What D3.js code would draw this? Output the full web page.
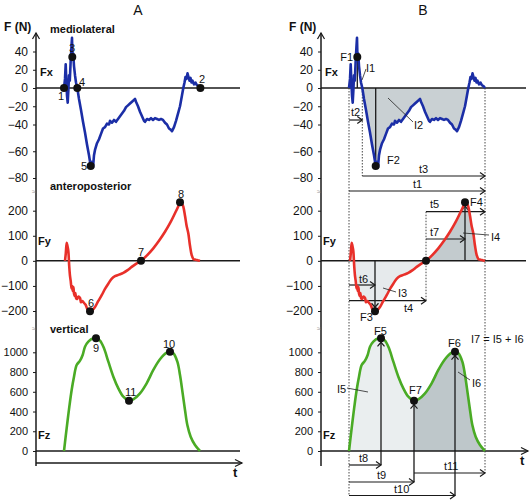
<!DOCTYPE html>
<html><head><meta charset="utf-8">
<script src="https://cdn.jsdelivr.net/npm/d3@7"></script>
<style>body{margin:0;background:#fff}svg{display:block}text{font-family:"Liberation Sans",Arial,sans-serif;fill:#111}</style>
</head><body><svg id="c" width="532" height="500"></svg>
<script>
// ---- data (time in ms of stance, force in N) ----
const stanceEnd = 680;
const fxT = [0,5,8.5,12,15,18.5,22,25,29,33,37,40,42,46,50,55,60,66.5,75,85,95,105,115,125,133.5,140,145,150,155,165,175,185,195,205,215,225,230,240,250,260,270,280,290,300,310,320,330,340,350,355,360,370,380,390,400,405,415,425,435,445,455,465,475,485,495,505,515,525,535,540,550,560,570,580,590,596.5,602.5,607.5,612.5,617.5,622.5,627.5,632.5,637.5,642.5,650,657.5,665,672.5,680];
const fxV = [0,10,26,6,-8,-16,-2,14,8,28,44,55,36,38,24,14,6,0,-12,-24,-37,-46,-55,-63,-71,-68,-72,-63,-59,-54,-51,-47,-43,-42,-39,-40,-36,-38,-35,-37,-34,-31,-28,-25,-21,-19,-17,-15,-13,-12,-15,-20,-26,-31,-36,-37,-34,-35,-33,-35,-33,-34,-35,-34,-35,-38,-40,-43,-44,-45,-42,-36,-28,-20,-8,0,6,12,10,16,12,8,11,6,8,4,6,3,2,0];
const fyT = [5,9,13.5,17,21.5,26,30,33.5,38,41,43.5,47,50,54,57,61,66,72,80,85,92,100,108,116.5,123,130,140,155,170,188.5,205,221.5,238,255,275,296.5,318,338.5,360,385,415,446.5,475,505,530,555,570,580,590,596.5,605,613,621.5,630,638.5,647,655,665,680];
const fyV = [0,30,72,60,40,-20,-60,-80,-110,-100,-120,-104,-130,-140,-128,-150,-152,-142,-148,-165,-160,-168,-175,-192,-197,-201,-198,-184,-162,-137,-112,-91,-72,-61,-55,-48,-37,-24,-12,0,22,50,80,116,150,190,215,234,228,216,180,140,110,60,23,7,5,3,0];
const fzT = [0,8.3,18.3,26.7,38.3,50,63.3,80,93.3,105,121.7,146.7,160,180,200,221.7,246.7,271.7,296.7,325,346.7,380,413.3,446.7,480,513.3,530,546.7,566.7,580,593.3,605,616.7,633.3,655,680];
const fzV = [0,145,314,449,618,753,871,915,973,1057,1108,1142,1142,1118,1040,905,753,635,550,510,523,584,686,821,929,996,1006,990,905,770,584,415,263,145,61,0];
const fxTicks = [40,20,0,-20,-40,-60,-80];
const fyTicks = [200,100,0,-100,-200];
const fzTicks = [1000,800,600,400,200,0];
// key events
const fxEvents = [{id:"1",t:0,v:0},{id:"3",t:41.5,v:34},{id:"4",t:66.5,v:0},{id:"5",t:133.5,v:-71},{id:"2",t:682,v:0}];
const fyEvents = [{id:"6",t:130,v:-201},{id:"7",t:385,v:0},{id:"8",t:580,v:234}];
const fzEvents = [{id:"9",t:160,v:1142},{id:"11",t:325,v:510},{id:"10",t:530,v:1006}];

// ---- layout ----
const svg = d3.select('#c');
const xA = d3.scaleLinear([0,stanceEnd],[64,200]);
const xB = d3.scaleLinear([0,stanceEnd],[349,485]);
const yFx = d3.scaleLinear([40,-40,-80],[51.5,124.5,178]);
const yFy = d3.scaleLinear([200,-200],[210.7,311]);
const yFz = d3.scaleLinear([0,1000],[451,352.3]);
const C = {fx:"#1b2ea6", fy:"#e8302a", fz:"#4aab25", ax:"#1a1a1a"};
const zip = (T,V)=>T.map((t,i)=>({t,v:V[i]}));
const fx = zip(fxT,fxV), fy = zip(fyT,fyV), fz = zip(fzT,fzV);
const ev = (arr,id)=>arr.find(d=>d.id===id);

function chev(g,x,y,dir,s=5){
  let p;
  if(dir==='r') p=[[x-s,y-3.5],[x,y],[x-s,y+3.5]];
  if(dir==='u') p=[[x-3.5,y+s],[x,y],[x+3.5,y+s]];
  if(dir==='d') p=[[x-3.5,y-s],[x,y],[x+3.5,y-s]];
  g.append('path').attr('d',d3.line()(p)).attr('fill','none').attr('stroke',C.ax).attr('stroke-width',1.2);
}
function txt(g,x,y,s,o={}){
  return g.append('text').attr('x',x).attr('y',y).text(s)
    .attr('font-size',o.fs||11).attr('font-weight',o.bold?'bold':null)
    .attr('text-anchor',o.anchor||'start');
}

function panel(ax, x, xRight, isB){
  const g = svg.append('g');
  const lineFx = d3.line().x(d=>x(d.t)).y(d=>yFx(d.v));
  const lineFy = d3.line().x(d=>x(d.t)).y(d=>yFy(d.v)).curve(d3.curveCatmullRom.alpha(0.5));
  const lineFz = d3.line().x(d=>x(d.t)).y(d=>yFz(d.v)).curve(d3.curveCatmullRom.alpha(0.5));
  if(isB){
    const sh = (data,y,lo,hi,fill,curve)=>{
      const a = d3.area().x(d=>x(d.t)).y0(y(0)).y1(d=>y(d.v));
      if(curve) a.curve(curve);
      g.append('path').datum(data.filter(d=>d.t>=lo&&d.t<=hi)).attr('d',a).attr('fill',fill);
    };
    const p4=ev(fxEvents,"4"), p7=ev(fyEvents,"7"), p11=ev(fzEvents,"11");
    sh(fx,yFx,p4.t,596.5,"#c9d0d3");
    sh(fy,yFy,0,p7.t,"#e6eaec",d3.curveCatmullRom.alpha(0.5));
    sh(fy,yFy,p7.t,stanceEnd,"#c3cbce",d3.curveCatmullRom.alpha(0.5));
    sh(fz,yFz,0,p11.t,"#eaeeef",d3.curveCatmullRom.alpha(0.5));
    sh(fz,yFz,p11.t,stanceEnd,"#bec7ca",d3.curveCatmullRom.alpha(0.5));
  }
  // axes
  const axG = (scale,ticks,fs)=>{
    const a = g.append('g').attr('transform',`translate(${ax},0)`)
      .call(d3.axisLeft(scale).tickValues(ticks).tickSize(3).tickPadding(5).tickFormat(d3.format('d')));
    a.select('.domain').remove();
    a.selectAll('line').attr('stroke',C.ax);
    a.selectAll('text').attr('font-size',fs).attr('font-family','"Liberation Sans",Arial,sans-serif').attr('fill','#111');
  };
  axG(yFx,fxTicks,12); axG(yFy,fyTicks,12); axG(yFz,fzTicks,11);
  g.append('line').attr('x1',ax).attr('x2',ax).attr('y1',33).attr('y2',466).attr('stroke',C.ax).attr('stroke-width',1.5);
  chev(g,ax,33,'u',6);
  [194,331].forEach(y=>txt(g,ax-2,y,'≈',{fs:7,anchor:'middle'}).attr('fill','#888').style('fill','#888'));
  const zl = (y,x2)=>g.append('line').attr('x1',ax).attr('x2',x2).attr('y1',y).attr('y2',y).attr('stroke',C.ax).attr('stroke-width',1.5);
  zl(yFx(0),xRight); zl(yFy(0),xRight);
  if(isB){ zl(yFz(0),xRight+2); chev(g,xRight+2,yFz(0),'r',7); txt(g,520,465,'t',{fs:13,bold:true}); }
  else { zl(yFz(0),xRight); zl(463,242); chev(g,242,463,'r',7); txt(g,233,477,'t',{fs:13,bold:true}); }
  // labels
  txt(g,ax+4,76,'Fx',{fs:11,bold:true});
  txt(g,ax+2,245,'Fy',{fs:11,bold:true});
  txt(g,ax+2,439,'Fz',{fs:11,bold:true});
  txt(g,ax-32,31,'F (N)',{fs:12,bold:true});
  if(!isB){
    txt(g,50,33,'mediolateral',{bold:true});
    txt(g,50,190,'anteroposterior',{bold:true});
    txt(g,50,333,'vertical',{bold:true});
  }
  return {g,lineFx,lineFy,lineFz};
}

function curves(p){
  p.g.append('path').datum(fx).attr('d',p.lineFx).attr('fill','none').attr('stroke',C.fx).attr('stroke-width',2.6).attr('stroke-linejoin','round');
  p.g.append('path').datum(fy).attr('d',p.lineFy).attr('fill','none').attr('stroke',C.fy).attr('stroke-width',2.6);
  p.g.append('path').datum(fz).attr('d',p.lineFz).attr('fill','none').attr('stroke',C.fz).attr('stroke-width',2.6);
}
function dot(g,x,y){ g.append('circle').attr('cx',x).attr('cy',y).attr('r',4).attr('fill','#111'); }

// ---- Panel A ----
txt(svg,138,15,'A',{fs:14,anchor:'middle'});
const pA = panel(36,xA,240,false);
curves(pA);
const numPos = {"1":[58,100],"3":[69,52],"4":[79,86],"2":[199,83],"5":[81,170],"6":[88,307],"7":[138,256],"8":[178,198],"9":[93,352],"10":[163,348],"11":[125,396]};
[[fxEvents,yFx],[fyEvents,yFy],[fzEvents,yFz]].forEach(([E,y])=>E.forEach(e=>{
  dot(pA.g,xA(e.t),y(e.v));
  txt(pA.g,numPos[e.id][0],numPos[e.id][1],e.id,{fs:11});
}));

// ---- Panel B ----
txt(svg,423,15,'B',{fs:14,anchor:'middle'});
const pB = panel(321,xB,526,true);
const gB = pB.g;
const dotted = (t,y1,y2)=>gB.append('line').attr('x1',xB(t)).attr('x2',xB(t)).attr('y1',y1).attr('y2',y2)
  .attr('stroke','#333').attr('stroke-width',0.9).attr('stroke-dasharray','1.5,1.5');
const solid = (t,y1,y2)=>gB.append('line').attr('x1',xB(t)).attr('x2',xB(t)).attr('y1',y1).attr('y2',y2)
  .attr('stroke',C.ax).attr('stroke-width',1.3);
const F1=ev(fxEvents,"3"),F2=ev(fxEvents,"5"),P4=ev(fxEvents,"4"),F3=ev(fyEvents,"6"),P7=ev(fyEvents,"7"),F4=ev(fyEvents,"8"),F5=ev(fzEvents,"9"),F7=ev(fzEvents,"11"),F6=ev(fzEvents,"10");
// time arrows: [from, to, y, label, lx, ly]
const tArrows = [
  [0,P4.t,120,'t2',351,116],[P4.t,stanceEnd,176,'t3',419,173],[0,stanceEnd,191,'t1',413,188],
  [P7.t,stanceEnd,211.7,'t5',430,208],[P7.t,F4.t,239,'t7',430,236],
  [0,F3.t,285,'t6',359,283],[0,P7.t,300.7,'t4',404,312],
  [0,F5.t,465,'t8',359,462],[0,F7.t,482,'t9',377,479],[0,F6.t,495.5,'t10',394,493],[F7.t,stanceEnd,473,'t11',444,470]
];
dotted(0,yFx(0),495.5); dotted(stanceEnd,yFx(0),473); dotted(P4.t,yFx(0),176); dotted(P7.t,211.7,300.7);
solid(F1.t,yFx(F1.v),yFx(0)); solid(F2.t,yFx(0),yFx(F2.v));
solid(F3.t,yFy(0),yFy(F3.v)); chev(gB,xB(F3.t),yFy(F3.v)-4,'d',4);
solid(F4.t,yFy(0),yFy(F4.v)); chev(gB,xB(F4.t),yFy(F4.v)+4,'u',4);
solid(F5.t,465,yFz(F5.v)); chev(gB,xB(F5.t),yFz(F5.v)+4,'u',4);
solid(F7.t,482,yFz(F7.v)); chev(gB,xB(F7.t),yFz(F7.v)+4,'u',4);
solid(F6.t,495.5,yFz(F6.v)); chev(gB,xB(F6.t),yFz(F6.v)+4,'u',4);
tArrows.forEach(([a,b,y,l,lx,ly])=>{
  gB.append('line').attr('x1',xB(a)).attr('x2',xB(b)).attr('y1',y).attr('y2',y).attr('stroke',C.ax).attr('stroke-width',1.2);
  chev(gB,xB(b),y,'r',5);
  txt(gB,lx,ly,l,{fs:11});
});
curves(pB);
[[F1,yFx],[F2,yFx],[F3,yFy],[P7,yFy],[F4,yFy],[F5,yFz],[F7,yFz],[F6,yFz]].forEach(([e,y])=>dot(gB,xB(e.t),y(e.v)));
// leaders: [x1,y1,x2,y2]
const leaders = [[362,80,366,69],[388,98,413,122],[463,233,489,235],[383,288,396,292],[347,388,368,392],[458,372,470,380]];
leaders.forEach(([a,b,c,d])=>gB.append('line').attr('x1',a).attr('y1',b).attr('x2',c).attr('y2',d).attr('stroke','#222').attr('stroke-width',0.8));
const bLabels = [['F1',353,61,'end'],['I1',366,72],['I2',414,129],['F2',387,164],['F4',470,206],['I4',491,241],['I3',398,297],['F3',360,321],['F5',374,335],['F6',448,347],['F7',409,394],['I5',337,393],['I6',472,387],['I7 = I5 + I6',471,343]];
bLabels.forEach(([s,x,y,a])=>txt(gB,x,y,s,{fs:11,anchor:a||'start'}));
</script></body></html>
